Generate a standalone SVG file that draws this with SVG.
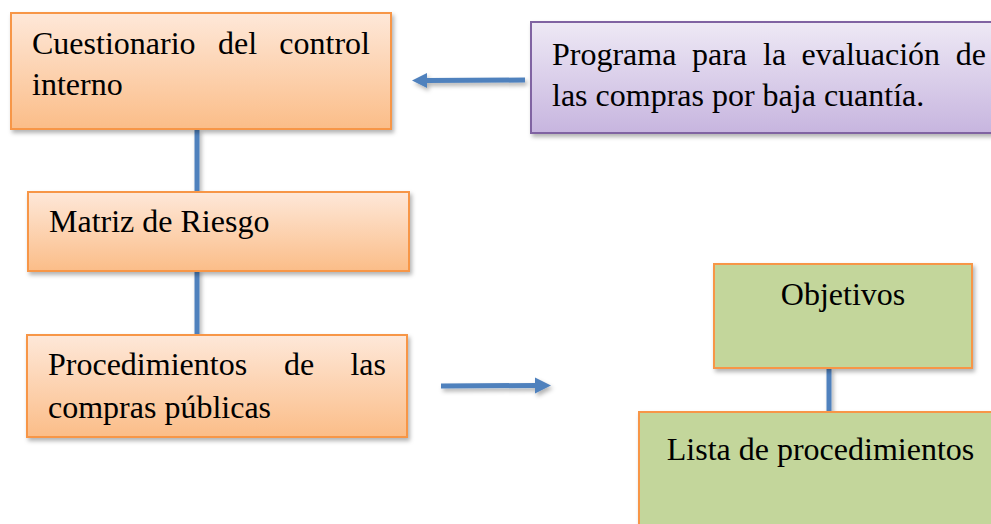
<svg xmlns="http://www.w3.org/2000/svg" width="991" height="524" viewBox="0 0 991 524">
<defs>
<linearGradient id="gOr" x1="0" y1="0" x2="0" y2="1">
<stop offset="0" stop-color="#fee8d9"/>
<stop offset="1" stop-color="#fbbd88"/>
</linearGradient>
<linearGradient id="gPu" x1="0" y1="0" x2="0" y2="1">
<stop offset="0" stop-color="#eee9f5"/>
<stop offset="1" stop-color="#c7b5df"/>
</linearGradient>
<filter id="sh" x="-10%" y="-10%" width="130%" height="140%">
<feDropShadow dx="2" dy="3" stdDeviation="2" flood-color="#000" flood-opacity="0.3"/>
</filter>
</defs>
<style>
.or{fill:url(#gOr);stroke:#f79646;stroke-width:2}
.pu{fill:url(#gPu);stroke:#8064a2;stroke-width:2}
.gr{fill:#c3d69b;stroke:#f79646;stroke-width:2}
.t{font-family:"Liberation Serif","Times New Roman",serif;font-size:32px;fill:#000}
.c{stroke:#4f81bd;stroke-width:5;fill:none}
.ah{fill:#4f81bd}
</style>
<g id="connectors" filter="url(#sh)">
<line class="c" x1="197" y1="129" x2="197" y2="191"/>
<line class="c" x1="197" y1="269" x2="197" y2="334"/>
<line class="c" x1="829" y1="368" x2="829" y2="412"/>
<line class="c" x1="525" y1="80" x2="426" y2="80.5"/>
<polygon class="ah" points="412,80.5 427,73 427,88"/>
<line class="c" x1="441" y1="386" x2="537" y2="385.5"/>
<polygon class="ah" points="551,385.5 535,377.5 535,393.5"/>
</g>
<g id="n1">
<rect class="or" x="11" y="13" width="380" height="116" filter="url(#sh)"/>
<text class="t" y="54"><tspan x="32">Cuestionario</tspan><tspan x="218">del</tspan><tspan x="370" text-anchor="end">control</tspan></text>
<text class="t" x="32" y="95">interno</text>
</g>
<g id="n2">
<rect class="pu" x="531" y="22" width="470" height="111" filter="url(#sh)"/>
<text class="t" y="65"><tspan x="552">Programa</tspan><tspan x="692">para</tspan><tspan x="763">la</tspan><tspan x="801.5">evaluación</tspan><tspan x="986" text-anchor="end">de</tspan></text>
<text class="t" x="552" y="106">las compras por baja cuantía.</text>
</g>
<g id="n3">
<rect class="or" x="28" y="192" width="381" height="79" filter="url(#sh)"/>
<text class="t" x="49" y="232">Matriz de Riesgo</text>
</g>
<g id="n4">
<rect class="or" x="27" y="335" width="380" height="102" filter="url(#sh)"/>
<text class="t" y="375"><tspan x="48">Procedimientos</tspan><tspan x="284">de</tspan><tspan x="386" text-anchor="end">las</tspan></text>
<text class="t" x="48" y="418">compras públicas</text>
</g>
<g id="n5">
<rect class="gr" x="714" y="264" width="258" height="104" filter="url(#sh)"/>
<text class="t" x="843" y="305" text-anchor="middle">Objetivos</text>
</g>
<g id="n6">
<rect class="gr" x="639" y="412" width="380" height="130" filter="url(#sh)"/>
<text class="t" x="820.5" y="460" text-anchor="middle">Lista de procedimientos</text>
</g>
</svg>
